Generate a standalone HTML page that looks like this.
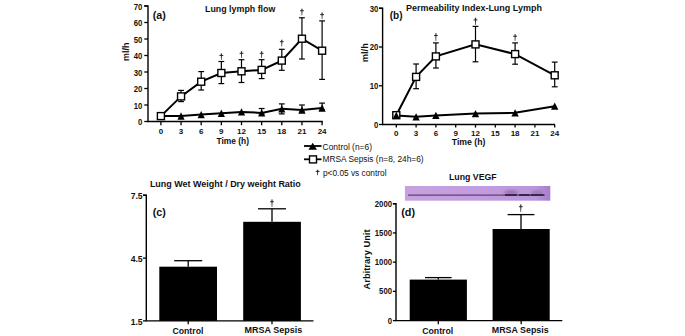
<!DOCTYPE html>
<html><head><meta charset="utf-8"><style>
html,body{margin:0;padding:0;background:#fff;width:685px;height:336px;overflow:hidden}
svg{display:block}
text{fill:#111;font-family:"Liberation Sans",sans-serif}
</style></head><body>
<svg width="685" height="336" viewBox="0 0 685 336" font-family="Liberation Sans, sans-serif">
<rect width="685" height="336" fill="#fff"/>
<path d="M144.3 6.0H148.0V121.5H322.8" fill="none" stroke="#000" stroke-width="1.4"/>
<line x1="144.30" y1="121.50" x2="148.00" y2="121.50" stroke="#000" stroke-width="1.3"/>
<text x="142.40" y="125.00" font-size="8.6" font-weight="bold" text-anchor="end" textLength="4.3" lengthAdjust="spacingAndGlyphs" >0</text>
<line x1="144.30" y1="105.00" x2="148.00" y2="105.00" stroke="#000" stroke-width="1.3"/>
<text x="142.40" y="108.50" font-size="8.6" font-weight="bold" text-anchor="end" textLength="8.61" lengthAdjust="spacingAndGlyphs" >10</text>
<line x1="144.30" y1="88.50" x2="148.00" y2="88.50" stroke="#000" stroke-width="1.3"/>
<text x="142.40" y="92.00" font-size="8.6" font-weight="bold" text-anchor="end" textLength="8.61" lengthAdjust="spacingAndGlyphs" >20</text>
<line x1="144.30" y1="72.00" x2="148.00" y2="72.00" stroke="#000" stroke-width="1.3"/>
<text x="142.40" y="75.50" font-size="8.6" font-weight="bold" text-anchor="end" textLength="8.61" lengthAdjust="spacingAndGlyphs" >30</text>
<line x1="144.30" y1="55.50" x2="148.00" y2="55.50" stroke="#000" stroke-width="1.3"/>
<text x="142.40" y="59.00" font-size="8.6" font-weight="bold" text-anchor="end" textLength="8.61" lengthAdjust="spacingAndGlyphs" >40</text>
<line x1="144.30" y1="39.00" x2="148.00" y2="39.00" stroke="#000" stroke-width="1.3"/>
<text x="142.40" y="42.50" font-size="8.6" font-weight="bold" text-anchor="end" textLength="8.61" lengthAdjust="spacingAndGlyphs" >50</text>
<line x1="144.30" y1="22.50" x2="148.00" y2="22.50" stroke="#000" stroke-width="1.3"/>
<text x="142.40" y="26.00" font-size="8.6" font-weight="bold" text-anchor="end" textLength="8.61" lengthAdjust="spacingAndGlyphs" >60</text>
<line x1="144.30" y1="6.00" x2="148.00" y2="6.00" stroke="#000" stroke-width="1.3"/>
<text x="142.40" y="9.50" font-size="8.6" font-weight="bold" text-anchor="end" textLength="8.61" lengthAdjust="spacingAndGlyphs" >70</text>
<line x1="160.90" y1="121.50" x2="160.90" y2="125.20" stroke="#000" stroke-width="1.3"/>
<text x="160.90" y="133.90" font-size="8" font-weight="bold" text-anchor="middle" >0</text>
<line x1="181.05" y1="121.50" x2="181.05" y2="125.20" stroke="#000" stroke-width="1.3"/>
<text x="181.05" y="133.90" font-size="8" font-weight="bold" text-anchor="middle" >3</text>
<line x1="201.20" y1="121.50" x2="201.20" y2="125.20" stroke="#000" stroke-width="1.3"/>
<text x="201.20" y="133.90" font-size="8" font-weight="bold" text-anchor="middle" >6</text>
<line x1="221.35" y1="121.50" x2="221.35" y2="125.20" stroke="#000" stroke-width="1.3"/>
<text x="221.35" y="133.90" font-size="8" font-weight="bold" text-anchor="middle" >9</text>
<line x1="241.50" y1="121.50" x2="241.50" y2="125.20" stroke="#000" stroke-width="1.3"/>
<text x="241.50" y="133.90" font-size="8" font-weight="bold" text-anchor="middle" >12</text>
<line x1="261.65" y1="121.50" x2="261.65" y2="125.20" stroke="#000" stroke-width="1.3"/>
<text x="261.65" y="133.90" font-size="8" font-weight="bold" text-anchor="middle" >15</text>
<line x1="281.80" y1="121.50" x2="281.80" y2="125.20" stroke="#000" stroke-width="1.3"/>
<text x="281.80" y="133.90" font-size="8" font-weight="bold" text-anchor="middle" >18</text>
<line x1="301.95" y1="121.50" x2="301.95" y2="125.20" stroke="#000" stroke-width="1.3"/>
<text x="301.95" y="133.90" font-size="8" font-weight="bold" text-anchor="middle" >21</text>
<line x1="322.10" y1="121.50" x2="322.10" y2="125.20" stroke="#000" stroke-width="1.3"/>
<text x="322.10" y="133.90" font-size="8" font-weight="bold" text-anchor="middle" >24</text>
<text x="232.70" y="144.10" font-size="8.8" font-weight="bold" text-anchor="middle" textLength="32.6" lengthAdjust="spacingAndGlyphs" >Time (h)</text>
<text x="128.80" y="51.75" font-size="9" font-weight="bold" text-anchor="middle" textLength="18.3" lengthAdjust="spacingAndGlyphs" transform="rotate(-90 128.8 51.75)">ml/h</text>
<text x="159.35" y="18.90" font-size="11" font-weight="bold" text-anchor="middle" textLength="13.1" lengthAdjust="spacingAndGlyphs" >(a)</text>
<text x="240.20" y="11.70" font-size="9" font-weight="bold" text-anchor="middle" textLength="70.4" lengthAdjust="spacingAndGlyphs" >Lung lymph flow</text>
<line x1="181.05" y1="90.40" x2="181.05" y2="101.60" stroke="#000" stroke-width="1.2"/>
<line x1="178.15" y1="90.40" x2="183.95" y2="90.40" stroke="#000" stroke-width="1.2"/>
<line x1="178.15" y1="101.60" x2="183.95" y2="101.60" stroke="#000" stroke-width="1.2"/>
<line x1="201.20" y1="71.60" x2="201.20" y2="90.00" stroke="#000" stroke-width="1.2"/>
<line x1="198.30" y1="71.60" x2="204.10" y2="71.60" stroke="#000" stroke-width="1.2"/>
<line x1="198.30" y1="90.00" x2="204.10" y2="90.00" stroke="#000" stroke-width="1.2"/>
<line x1="221.35" y1="61.50" x2="221.35" y2="83.60" stroke="#000" stroke-width="1.2"/>
<line x1="218.45" y1="61.50" x2="224.25" y2="61.50" stroke="#000" stroke-width="1.2"/>
<line x1="218.45" y1="83.60" x2="224.25" y2="83.60" stroke="#000" stroke-width="1.2"/>
<line x1="241.50" y1="59.70" x2="241.50" y2="82.50" stroke="#000" stroke-width="1.2"/>
<line x1="238.60" y1="59.70" x2="244.40" y2="59.70" stroke="#000" stroke-width="1.2"/>
<line x1="238.60" y1="82.50" x2="244.40" y2="82.50" stroke="#000" stroke-width="1.2"/>
<line x1="261.65" y1="59.70" x2="261.65" y2="78.60" stroke="#000" stroke-width="1.2"/>
<line x1="258.75" y1="59.70" x2="264.55" y2="59.70" stroke="#000" stroke-width="1.2"/>
<line x1="258.75" y1="78.60" x2="264.55" y2="78.60" stroke="#000" stroke-width="1.2"/>
<line x1="281.80" y1="49.30" x2="281.80" y2="70.30" stroke="#000" stroke-width="1.2"/>
<line x1="278.90" y1="49.30" x2="284.70" y2="49.30" stroke="#000" stroke-width="1.2"/>
<line x1="278.90" y1="70.30" x2="284.70" y2="70.30" stroke="#000" stroke-width="1.2"/>
<line x1="301.95" y1="17.80" x2="301.95" y2="59.00" stroke="#000" stroke-width="1.2"/>
<line x1="299.05" y1="17.80" x2="304.85" y2="17.80" stroke="#000" stroke-width="1.2"/>
<line x1="299.05" y1="59.00" x2="304.85" y2="59.00" stroke="#000" stroke-width="1.2"/>
<line x1="322.10" y1="20.90" x2="322.10" y2="79.40" stroke="#000" stroke-width="1.2"/>
<line x1="319.20" y1="20.90" x2="325.00" y2="20.90" stroke="#000" stroke-width="1.2"/>
<line x1="319.20" y1="79.40" x2="325.00" y2="79.40" stroke="#000" stroke-width="1.2"/>
<line x1="261.65" y1="108.50" x2="261.65" y2="114.00" stroke="#000" stroke-width="1.2"/>
<line x1="258.75" y1="108.50" x2="264.55" y2="108.50" stroke="#000" stroke-width="1.2"/>
<line x1="258.75" y1="114.00" x2="264.55" y2="114.00" stroke="#000" stroke-width="1.2"/>
<line x1="281.80" y1="103.90" x2="281.80" y2="113.90" stroke="#000" stroke-width="1.2"/>
<line x1="278.90" y1="103.90" x2="284.70" y2="103.90" stroke="#000" stroke-width="1.2"/>
<line x1="278.90" y1="113.90" x2="284.70" y2="113.90" stroke="#000" stroke-width="1.2"/>
<line x1="301.95" y1="105.00" x2="301.95" y2="112.00" stroke="#000" stroke-width="1.2"/>
<line x1="299.05" y1="105.00" x2="304.85" y2="105.00" stroke="#000" stroke-width="1.2"/>
<line x1="299.05" y1="112.00" x2="304.85" y2="112.00" stroke="#000" stroke-width="1.2"/>
<line x1="322.10" y1="103.10" x2="322.10" y2="110.00" stroke="#000" stroke-width="1.2"/>
<line x1="319.20" y1="103.10" x2="325.00" y2="103.10" stroke="#000" stroke-width="1.2"/>
<line x1="319.20" y1="110.00" x2="325.00" y2="110.00" stroke="#000" stroke-width="1.2"/>
<polyline points="160.90,116.00 181.05,116.00 201.20,114.60 221.35,113.30 241.50,111.90 261.65,112.90 281.80,108.85 301.95,110.05 322.10,108.00" fill="none" stroke="#000" stroke-width="2"/>
<polyline points="160.90,116.10 181.05,96.40 201.20,81.70 221.35,73.00 241.50,71.30 261.65,69.90 281.80,60.60 301.95,38.70 322.10,50.70" fill="none" stroke="#000" stroke-width="2"/>
<path d="M160.90 112.30L164.50 119.70L157.30 119.70Z" fill="#000"/>
<path d="M181.05 112.30L184.65 119.70L177.45 119.70Z" fill="#000"/>
<path d="M201.20 110.90L204.80 118.30L197.60 118.30Z" fill="#000"/>
<path d="M221.35 109.60L224.95 117.00L217.75 117.00Z" fill="#000"/>
<path d="M241.50 108.20L245.10 115.60L237.90 115.60Z" fill="#000"/>
<path d="M261.65 109.20L265.25 116.60L258.05 116.60Z" fill="#000"/>
<path d="M281.80 105.15L285.40 112.55L278.20 112.55Z" fill="#000"/>
<path d="M301.95 106.35L305.55 113.75L298.35 113.75Z" fill="#000"/>
<path d="M322.10 104.30L325.70 111.70L318.50 111.70Z" fill="#000"/>
<rect x="157.40" y="112.60" width="7.0" height="7.0" fill="#fff" stroke="#000" stroke-width="1.4"/>
<rect x="177.55" y="92.90" width="7.0" height="7.0" fill="#fff" stroke="#000" stroke-width="1.4"/>
<rect x="197.70" y="78.20" width="7.0" height="7.0" fill="#fff" stroke="#000" stroke-width="1.4"/>
<rect x="217.85" y="69.50" width="7.0" height="7.0" fill="#fff" stroke="#000" stroke-width="1.4"/>
<rect x="238.00" y="67.80" width="7.0" height="7.0" fill="#fff" stroke="#000" stroke-width="1.4"/>
<rect x="258.15" y="66.40" width="7.0" height="7.0" fill="#fff" stroke="#000" stroke-width="1.4"/>
<rect x="278.30" y="57.10" width="7.0" height="7.0" fill="#fff" stroke="#000" stroke-width="1.4"/>
<rect x="298.45" y="35.20" width="7.0" height="7.0" fill="#fff" stroke="#000" stroke-width="1.4"/>
<rect x="318.60" y="47.20" width="7.0" height="7.0" fill="#fff" stroke="#000" stroke-width="1.4"/>
<path d="M220.70 53.50H222.00L221.65 60.00H221.05Z" fill="#2a2a2a"/>
<rect x="219.45" y="54.95" width="3.8" height="1.0" fill="#2a2a2a"/>
<path d="M240.85 51.30H242.15L241.80 58.00H241.20Z" fill="#2a2a2a"/>
<rect x="239.60" y="52.81" width="3.8" height="1.0" fill="#2a2a2a"/>
<path d="M261.00 51.30H262.30L261.95 58.00H261.35Z" fill="#2a2a2a"/>
<rect x="259.75" y="52.81" width="3.8" height="1.0" fill="#2a2a2a"/>
<path d="M281.15 39.70H282.45L282.10 46.40H281.50Z" fill="#2a2a2a"/>
<rect x="279.90" y="41.21" width="3.8" height="1.0" fill="#2a2a2a"/>
<path d="M301.30 8.70H302.60L302.25 15.50H301.65Z" fill="#2a2a2a"/>
<rect x="300.05" y="10.24" width="3.8" height="1.0" fill="#2a2a2a"/>
<path d="M321.45 12.60H322.75L322.40 19.30H321.80Z" fill="#2a2a2a"/>
<rect x="320.20" y="14.11" width="3.8" height="1.0" fill="#2a2a2a"/>
<path d="M379 8.3H382.6V124.5H555" fill="none" stroke="#000" stroke-width="1.4"/>
<line x1="379.00" y1="124.50" x2="382.60" y2="124.50" stroke="#000" stroke-width="1.3"/>
<text x="378.30" y="127.80" font-size="8.6" font-weight="bold" text-anchor="end" textLength="4.3" lengthAdjust="spacingAndGlyphs" >0</text>
<line x1="379.00" y1="85.77" x2="382.60" y2="85.77" stroke="#000" stroke-width="1.3"/>
<text x="378.30" y="89.07" font-size="8.6" font-weight="bold" text-anchor="end" textLength="8.61" lengthAdjust="spacingAndGlyphs" >10</text>
<line x1="379.00" y1="47.03" x2="382.60" y2="47.03" stroke="#000" stroke-width="1.3"/>
<text x="378.30" y="50.33" font-size="8.6" font-weight="bold" text-anchor="end" textLength="8.61" lengthAdjust="spacingAndGlyphs" >20</text>
<line x1="379.00" y1="8.30" x2="382.60" y2="8.30" stroke="#000" stroke-width="1.3"/>
<text x="378.30" y="11.60" font-size="8.6" font-weight="bold" text-anchor="end" textLength="8.61" lengthAdjust="spacingAndGlyphs" >30</text>
<line x1="396.30" y1="124.50" x2="396.30" y2="127.60" stroke="#000" stroke-width="1.3"/>
<text x="396.30" y="136.40" font-size="8" font-weight="bold" text-anchor="middle" >0</text>
<line x1="416.10" y1="124.50" x2="416.10" y2="127.60" stroke="#000" stroke-width="1.3"/>
<text x="416.10" y="136.40" font-size="8" font-weight="bold" text-anchor="middle" >3</text>
<line x1="435.90" y1="124.50" x2="435.90" y2="127.60" stroke="#000" stroke-width="1.3"/>
<text x="435.90" y="136.40" font-size="8" font-weight="bold" text-anchor="middle" >6</text>
<line x1="455.70" y1="124.50" x2="455.70" y2="127.60" stroke="#000" stroke-width="1.3"/>
<text x="455.70" y="136.40" font-size="8" font-weight="bold" text-anchor="middle" >9</text>
<line x1="475.50" y1="124.50" x2="475.50" y2="127.60" stroke="#000" stroke-width="1.3"/>
<text x="475.50" y="136.40" font-size="8" font-weight="bold" text-anchor="middle" >12</text>
<line x1="495.30" y1="124.50" x2="495.30" y2="127.60" stroke="#000" stroke-width="1.3"/>
<text x="495.30" y="136.40" font-size="8" font-weight="bold" text-anchor="middle" >15</text>
<line x1="515.10" y1="124.50" x2="515.10" y2="127.60" stroke="#000" stroke-width="1.3"/>
<text x="515.10" y="136.40" font-size="8" font-weight="bold" text-anchor="middle" >18</text>
<line x1="534.90" y1="124.50" x2="534.90" y2="127.60" stroke="#000" stroke-width="1.3"/>
<text x="534.90" y="136.40" font-size="8" font-weight="bold" text-anchor="middle" >21</text>
<line x1="554.70" y1="124.50" x2="554.70" y2="127.60" stroke="#000" stroke-width="1.3"/>
<text x="554.70" y="136.40" font-size="8" font-weight="bold" text-anchor="middle" >24</text>
<text x="468.65" y="145.30" font-size="8.8" font-weight="bold" text-anchor="middle" textLength="33.7" lengthAdjust="spacingAndGlyphs" >Time (h)</text>
<text x="367.70" y="52.70" font-size="9.2" font-weight="bold" text-anchor="middle" textLength="19.0" lengthAdjust="spacingAndGlyphs" transform="rotate(-90 367.7 52.7)">ml/h</text>
<text x="396.10" y="18.80" font-size="11" font-weight="bold" text-anchor="middle" textLength="12.8" lengthAdjust="spacingAndGlyphs" >(b)</text>
<text x="474.00" y="10.90" font-size="9" font-weight="bold" text-anchor="middle" textLength="135.8" lengthAdjust="spacingAndGlyphs" >Permeability Index-Lung Lymph</text>
<line x1="416.10" y1="64.00" x2="416.10" y2="88.70" stroke="#000" stroke-width="1.2"/>
<line x1="413.20" y1="64.00" x2="419.00" y2="64.00" stroke="#000" stroke-width="1.2"/>
<line x1="413.20" y1="88.70" x2="419.00" y2="88.70" stroke="#000" stroke-width="1.2"/>
<line x1="435.90" y1="42.90" x2="435.90" y2="68.00" stroke="#000" stroke-width="1.2"/>
<line x1="433.00" y1="42.90" x2="438.80" y2="42.90" stroke="#000" stroke-width="1.2"/>
<line x1="433.00" y1="68.00" x2="438.80" y2="68.00" stroke="#000" stroke-width="1.2"/>
<line x1="475.50" y1="26.40" x2="475.50" y2="61.80" stroke="#000" stroke-width="1.2"/>
<line x1="472.60" y1="26.40" x2="478.40" y2="26.40" stroke="#000" stroke-width="1.2"/>
<line x1="472.60" y1="61.80" x2="478.40" y2="61.80" stroke="#000" stroke-width="1.2"/>
<line x1="515.10" y1="42.90" x2="515.10" y2="64.20" stroke="#000" stroke-width="1.2"/>
<line x1="512.20" y1="42.90" x2="518.00" y2="42.90" stroke="#000" stroke-width="1.2"/>
<line x1="512.20" y1="64.20" x2="518.00" y2="64.20" stroke="#000" stroke-width="1.2"/>
<line x1="554.70" y1="62.10" x2="554.70" y2="86.80" stroke="#000" stroke-width="1.2"/>
<line x1="551.80" y1="62.10" x2="557.60" y2="62.10" stroke="#000" stroke-width="1.2"/>
<line x1="551.80" y1="86.80" x2="557.60" y2="86.80" stroke="#000" stroke-width="1.2"/>
<polyline points="396.30,115.40 416.10,116.80 435.90,115.40 475.50,113.60 515.10,112.80 554.70,106.20" fill="none" stroke="#000" stroke-width="2"/>
<polyline points="396.30,115.20 416.10,76.90 435.90,56.40 475.50,44.40 515.10,54.10 554.70,75.30" fill="none" stroke="#000" stroke-width="2"/>
<rect x="392.80" y="111.70" width="7.0" height="7.0" fill="#fff" stroke="#000" stroke-width="1.4"/>
<rect x="412.60" y="73.40" width="7.0" height="7.0" fill="#fff" stroke="#000" stroke-width="1.4"/>
<rect x="432.40" y="52.90" width="7.0" height="7.0" fill="#fff" stroke="#000" stroke-width="1.4"/>
<rect x="472.00" y="40.90" width="7.0" height="7.0" fill="#fff" stroke="#000" stroke-width="1.4"/>
<rect x="511.60" y="50.60" width="7.0" height="7.0" fill="#fff" stroke="#000" stroke-width="1.4"/>
<rect x="551.20" y="71.80" width="7.0" height="7.0" fill="#fff" stroke="#000" stroke-width="1.4"/>
<path d="M396.30 111.75L400.00 119.05L392.60 119.05Z" fill="#000"/>
<path d="M416.10 113.15L419.80 120.45L412.40 120.45Z" fill="#000"/>
<path d="M435.90 111.75L439.60 119.05L432.20 119.05Z" fill="#000"/>
<path d="M475.50 109.95L479.20 117.25L471.80 117.25Z" fill="#000"/>
<path d="M515.10 109.15L518.80 116.45L511.40 116.45Z" fill="#000"/>
<path d="M554.70 102.55L558.40 109.85L551.00 109.85Z" fill="#000"/>
<path d="M435.25 33.20H436.55L436.20 41.00H435.60Z" fill="#2a2a2a"/>
<rect x="434.00" y="35.04" width="3.8" height="1.0" fill="#2a2a2a"/>
<path d="M474.85 17.70H476.15L475.80 25.00H475.20Z" fill="#2a2a2a"/>
<rect x="473.60" y="19.39" width="3.8" height="1.0" fill="#2a2a2a"/>
<path d="M514.45 34.20H515.75L515.40 41.00H514.80Z" fill="#2a2a2a"/>
<rect x="513.20" y="35.74" width="3.8" height="1.0" fill="#2a2a2a"/>
<line x1="304.00" y1="146.00" x2="321.50" y2="146.00" stroke="#000" stroke-width="1.8"/>
<path d="M312.70 142.80L316.95 149.80L308.45 149.80Z" fill="#000"/>
<text x="322.60" y="149.50" font-size="8.4" font-weight="normal" text-anchor="start" textLength="49.4" lengthAdjust="spacingAndGlyphs" >Control (n=6)</text>
<line x1="304.00" y1="159.30" x2="321.50" y2="159.30" stroke="#000" stroke-width="1.8"/>
<rect x="309.50" y="155.90" width="7" height="7" fill="#fff" stroke="#000" stroke-width="1.4"/>
<text x="322.60" y="162.30" font-size="8.4" font-weight="normal" text-anchor="start" textLength="101.0" lengthAdjust="spacingAndGlyphs" >MRSA Sepsis (n=8, 24h=6)</text>
<path d="M316.95 169.80H318.25L317.90 175.20H317.30Z" fill="#2a2a2a"/>
<rect x="315.70" y="170.92" width="3.8" height="1.0" fill="#2a2a2a"/>
<text x="323.00" y="175.70" font-size="8.4" font-weight="normal" text-anchor="start" textLength="63.5" lengthAdjust="spacingAndGlyphs" >p&lt;0.05 vs control</text>
<path d="M143 195.2H146.3V320.9H313.5" fill="none" stroke="#000" stroke-width="1.4"/>
<line x1="143.00" y1="195.20" x2="146.30" y2="195.20" stroke="#000" stroke-width="1.3"/>
<text x="142.60" y="198.90" font-size="8.6" font-weight="bold" text-anchor="end" >7.5</text>
<line x1="143.00" y1="258.10" x2="146.30" y2="258.10" stroke="#000" stroke-width="1.3"/>
<text x="142.60" y="261.80" font-size="8.6" font-weight="bold" text-anchor="end" >4.5</text>
<line x1="143.00" y1="320.90" x2="146.30" y2="320.90" stroke="#000" stroke-width="1.3"/>
<text x="142.60" y="324.60" font-size="8.6" font-weight="bold" text-anchor="end" >1.5</text>
<rect x="159.3" y="266.7" width="57.7" height="54.2" fill="#000"/>
<line x1="188.20" y1="260.70" x2="188.20" y2="266.70" stroke="#000" stroke-width="1.3"/>
<line x1="174.20" y1="260.70" x2="202.20" y2="260.70" stroke="#000" stroke-width="1.3"/>
<rect x="243.2" y="221.8" width="57.7" height="99.1" fill="#000"/>
<line x1="272.00" y1="208.80" x2="272.00" y2="221.80" stroke="#000" stroke-width="1.3"/>
<line x1="258.00" y1="208.80" x2="286.00" y2="208.80" stroke="#000" stroke-width="1.3"/>
<path d="M271.35 199.50H272.65L272.30 206.90H271.70Z" fill="#2a2a2a"/>
<rect x="270.10" y="201.22" width="3.8" height="1.0" fill="#2a2a2a"/>
<line x1="188.20" y1="320.90" x2="188.20" y2="324.20" stroke="#000" stroke-width="1.3"/>
<line x1="272.00" y1="320.90" x2="272.00" y2="324.20" stroke="#000" stroke-width="1.3"/>
<text x="187.90" y="333.80" font-size="9" font-weight="bold" text-anchor="middle" textLength="31.0" lengthAdjust="spacingAndGlyphs" >Control</text>
<text x="273.40" y="333.00" font-size="9" font-weight="bold" text-anchor="middle" textLength="57.6" lengthAdjust="spacingAndGlyphs" >MRSA Sepsis</text>
<text x="159.35" y="215.90" font-size="11" font-weight="bold" text-anchor="middle" textLength="13.1" lengthAdjust="spacingAndGlyphs" >(c)</text>
<text x="225.35" y="186.70" font-size="9" font-weight="bold" text-anchor="middle" textLength="150.9" lengthAdjust="spacingAndGlyphs" >Lung Wet Weight / Dry weight Ratio</text>
<path d="M392.9 203.7H396.0V320.6H562.3" fill="none" stroke="#000" stroke-width="1.4"/>
<line x1="392.90" y1="320.60" x2="396.00" y2="320.60" stroke="#000" stroke-width="1.3"/>
<text x="392.00" y="323.70" font-size="8.6" font-weight="bold" text-anchor="end" textLength="4.3" lengthAdjust="spacingAndGlyphs" >0</text>
<line x1="392.90" y1="291.38" x2="396.00" y2="291.38" stroke="#000" stroke-width="1.3"/>
<text x="392.00" y="294.48" font-size="8.6" font-weight="bold" text-anchor="end" textLength="12.91" lengthAdjust="spacingAndGlyphs" >500</text>
<line x1="392.90" y1="262.15" x2="396.00" y2="262.15" stroke="#000" stroke-width="1.3"/>
<text x="392.00" y="265.25" font-size="8.6" font-weight="bold" text-anchor="end" textLength="17.21" lengthAdjust="spacingAndGlyphs" >1000</text>
<line x1="392.90" y1="232.93" x2="396.00" y2="232.93" stroke="#000" stroke-width="1.3"/>
<text x="392.00" y="236.03" font-size="8.6" font-weight="bold" text-anchor="end" textLength="17.21" lengthAdjust="spacingAndGlyphs" >1500</text>
<line x1="392.90" y1="203.70" x2="396.00" y2="203.70" stroke="#000" stroke-width="1.3"/>
<text x="392.00" y="206.80" font-size="8.6" font-weight="bold" text-anchor="end" textLength="17.21" lengthAdjust="spacingAndGlyphs" >2000</text>
<rect x="409.7" y="279.6" width="57.2" height="41.0" fill="#000"/>
<line x1="438.30" y1="277.60" x2="438.30" y2="279.60" stroke="#000" stroke-width="1.3"/>
<line x1="425.00" y1="277.60" x2="451.60" y2="277.60" stroke="#000" stroke-width="1.3"/>
<rect x="492.6" y="229.0" width="57.1" height="91.6" fill="#000"/>
<line x1="521.00" y1="214.60" x2="521.00" y2="229.00" stroke="#000" stroke-width="1.3"/>
<line x1="507.60" y1="214.60" x2="534.40" y2="214.60" stroke="#000" stroke-width="1.3"/>
<path d="M520.15 204.50H521.45L521.10 211.90H520.50Z" fill="#2a2a2a"/>
<rect x="518.90" y="206.22" width="3.8" height="1.0" fill="#2a2a2a"/>
<line x1="438.30" y1="320.60" x2="438.30" y2="324.20" stroke="#000" stroke-width="1.3"/>
<line x1="521.20" y1="320.60" x2="521.20" y2="324.20" stroke="#000" stroke-width="1.3"/>
<text x="437.70" y="333.80" font-size="9" font-weight="bold" text-anchor="middle" textLength="31.1" lengthAdjust="spacingAndGlyphs" >Control</text>
<text x="520.25" y="332.90" font-size="9" font-weight="bold" text-anchor="middle" textLength="56.9" lengthAdjust="spacingAndGlyphs" >MRSA Sepsis</text>
<text x="408.10" y="216.00" font-size="11" font-weight="bold" text-anchor="middle" textLength="13.8" lengthAdjust="spacingAndGlyphs" >(d)</text>
<text x="472.85" y="180.00" font-size="9" font-weight="bold" text-anchor="middle" textLength="47.7" lengthAdjust="spacingAndGlyphs" >Lung VEGF</text>
<text x="369.90" y="259.45" font-size="9" font-weight="bold" text-anchor="middle" textLength="60.0" lengthAdjust="spacingAndGlyphs" transform="rotate(-90 369.9 259.45)">Arbitrary Unit</text>
<defs><linearGradient id="bg" x1="0" x2="1" y1="0" y2="0"><stop offset="0" stop-color="#c6a2e0"/><stop offset="0.5" stop-color="#c29ddf"/><stop offset="0.9" stop-color="#bb95da"/><stop offset="1" stop-color="#a47fca"/></linearGradient><filter id="bl" filterUnits="userSpaceOnUse" x="400" y="184" width="155" height="20"><feGaussianBlur stdDeviation="0.75"/></filter><filter id="bl2" filterUnits="userSpaceOnUse" x="400" y="184" width="155" height="20"><feGaussianBlur stdDeviation="1.2"/></filter></defs>
<rect x="404.9" y="186.0" width="145.4" height="14.7" fill="url(#bg)"/>
<g filter="url(#bl2)"><ellipse cx="511" cy="192.5" rx="7" ry="2.5" fill="#8a5fa0" opacity="0.6"/><ellipse cx="537" cy="192.5" rx="6" ry="2" fill="#8a5fa0" opacity="0.5"/></g>
<g filter="url(#bl)">
<path d="M408 195.1H545" stroke="#5e4474" stroke-width="1.1"/>
<path d="M505.7 195.1H516.2" stroke="#3a2848" stroke-width="2.0" stroke-linecap="round"/>
<path d="M519.7 195.1H529.0" stroke="#3a2848" stroke-width="2.0" stroke-linecap="round"/>
<path d="M531.4 195.1H543.0" stroke="#3a2848" stroke-width="2.0" stroke-linecap="round"/>
</g>
</svg>
</body></html>
